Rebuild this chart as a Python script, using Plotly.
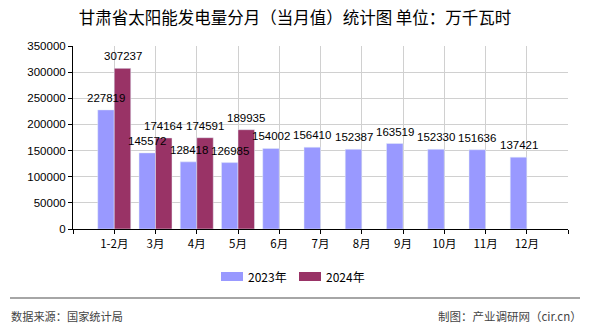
import plotly.graph_objects as go

categories = ["1-2月", "3月", "4月", "5月", "6月", "7月", "8月", "9月", "10月", "11月", "12月"]
values_2023 = [227819, 145572, 128418, 126985, 154002, 156410, 152387, 163519, 152330, 151636, 137421]
values_2024 = [307237, 174164, 174591, 189935, None, None, None, None, None, None, None]
y_ticks = [0, 50000, 100000, 150000, 200000, 250000, 300000, 350000]
series_names = ["2023年", "2024年"]
series_colors = ["#9999FF", "#993366"]

xpos = list(range(len(categories)))
num_font = dict(family="Liberation Sans, Arial", size=11.5, color="#000000")
cjk = "Noto Sans CJK SC"

BARGAP = 0.2
n_series = 2
bar_w = (1 - BARGAP) / n_series

fig = go.Figure()
for k, (name, vals, col) in enumerate(zip(series_names, [values_2023, values_2024], series_colors)):
    fig.add_trace(go.Bar(
        name=name, x=xpos, y=vals, marker_color=col, showlegend=False,
    ))
    offset = -(1 - BARGAP) / 2 + bar_w * (k + 0.5)
    for i, v in zip(xpos, vals):
        if v is None:
            continue
        fig.add_annotation(x=i + offset, y=v, xref="x", yref="y", text=str(v),
                           showarrow=False, xanchor="center", yanchor="bottom",
                           yshift=4, font=num_font)

L, R, T, B = 73, 568, 46, 229
PW, PH = R - L, B - T
def px(x):
    return (x - L) / PW
def py(y):
    return (B - y) / PH

fig.update_layout(
    width=590, height=330,
    margin=dict(l=L, r=590 - R, t=T, b=330 - B),
    paper_bgcolor="white", plot_bgcolor="white",
    barmode="group", bargap=BARGAP, bargroupgap=0,
    title=dict(text="甘肃省太阳能发电量分月（当月值）统计图 单位：万千瓦时",
               x=0.5, xanchor="center", y=1 - 18 / 330, yanchor="middle",
               font=dict(family=cjk, size=16.5, color="#000000")),
    showlegend=False,
)

fig.update_xaxes(
    range=[-1, 11],
    tickmode="array",
    tickvals=[-1] + xpos + [11],
    ticktext=[""] + categories + [""],
    showgrid=True, gridcolor="#D0D0D0", gridwidth=1,
    showline=True, linecolor="#000000", linewidth=1,
    ticks="outside", ticklen=4, tickcolor="#000000",
    tickfont=dict(family=cjk, size=11.5, color="#000000"),
    zeroline=False,
)
fig.update_yaxes(
    range=[0, 350000],
    tickmode="array", tickvals=y_ticks, ticktext=[str(v) for v in y_ticks],
    showgrid=True, gridcolor="#D0D0D0", gridwidth=1,
    showline=True, linecolor="#000000", linewidth=1,
    ticks="outside", ticklen=4, tickcolor="#000000",
    tickfont=num_font,
    zeroline=False,
)

# manual legend
legend_items = [(221, 243, 246), (299, 321, 324)]
for (x0, x1, tx), name, col in zip(legend_items, series_names, series_colors):
    fig.add_shape(type="rect", xref="paper", yref="paper",
                  x0=px(x0), x1=px(x1), y0=py(281), y1=py(272),
                  fillcolor=col, line=dict(width=0))
    fig.add_annotation(text=name, xref="paper", yref="paper",
                       x=px(tx), y=py(276.5), xanchor="left", yanchor="middle",
                       showarrow=False, font=dict(family=cjk, size=12, color="#000000"))

# separator line and footer
fig.add_shape(type="line", xref="paper", yref="paper",
              x0=px(10), x1=px(580), y0=py(298), y1=py(298),
              line=dict(color="#888888", width=1.5))
fig.add_annotation(text="数据来源：国家统计局", xref="paper", yref="paper",
                   x=px(9), y=py(316), xanchor="left", yanchor="middle",
                   showarrow=False, font=dict(family=cjk, size=11.2, color="#444444"))
fig.add_annotation(text="制图：产业调研网（cir.cn）", xref="paper", yref="paper",
                   x=px(584), y=py(316), xanchor="right", yanchor="middle",
                   showarrow=False, font=dict(family=cjk, size=11.5, color="#444444"))

fig.write_html("out.html")
